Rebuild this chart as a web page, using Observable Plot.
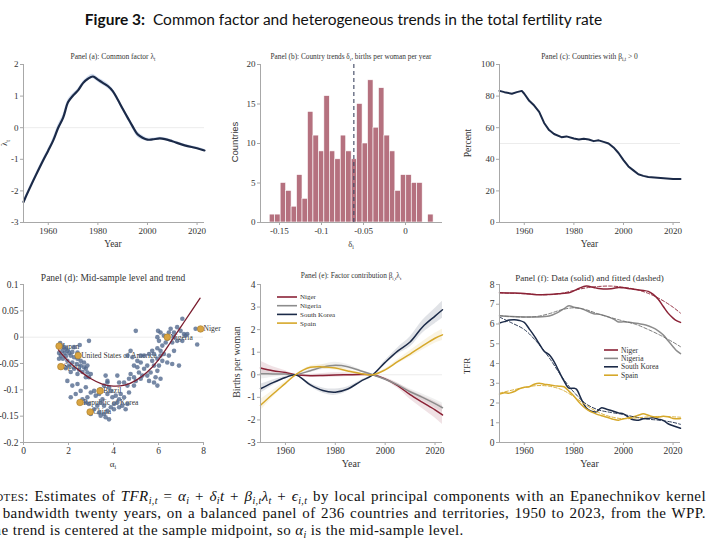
<!DOCTYPE html>
<html><head><meta charset="utf-8">
<script src="https://cdn.jsdelivr.net/npm/d3@7"></script>
<script src="https://cdn.jsdelivr.net/npm/@observablehq/plot@0.6"></script>
<style>
body{margin:0;width:709px;height:544px;position:relative;overflow:hidden;background:#fff;font-family:"Liberation Serif",serif;color:#111}
.panel{position:absolute}
.panel svg, .panel svg text{font-family:"Liberation Serif",serif}
#title{position:absolute;top:10px;left:-11px;width:709px;text-align:center;font-family:Lato,"Open Sans",sans-serif;font-size:15.5px;color:#111}
#title b{font-weight:700}
.note{position:absolute;left:-16px;width:722px;font-family:"Liberation Serif",serif;font-size:15px;line-height:17px;letter-spacing:0.4px;text-align:justify;text-align-last:justify;white-space:nowrap}
.note.last{text-align:left;text-align-last:left}
.note sub{font-size:10px;line-height:0;vertical-align:-3px}
.sc{font-variant:small-caps}
</style></head>
<body>
<div id="title"><b>Figure 3:</b>&nbsp; Common factor and heterogeneous trends in the total fertility rate</div>
<div id="root"></div>
<div class="note" style="top:488px;white-space:normal"><span class="sc">Notes</span>: Estimates of <i>TFR</i><sub><i>i,t</i></sub> = <i>α<sub>i</sub></i> + <i>δ<sub>i</sub>t</i> + <i>β<sub>i,t</sub>λ<sub>t</sub></i> + <i>ϵ<sub>i,t</sub></i> by local principal components with an Epanechnikov kernel</div>
<div class="note" style="top:505px;white-space:normal">of bandwidth twenty years, on a balanced panel of 236 countries and territories, 1950 to 2023, from the WPP.</div>
<div class="note last" style="top:522px">The trend is centered at the sample midpoint, so <i>α<sub>i</sub></i> is the mid-sample level.</div>
<script>
// ---------------- DATA ----------------
// Panel (a): common factor
const aYears = [1950,1952,1955,1958,1960,1962,1964,1966,1968,1970,1972,1974,1976,1978,1980,1982,1984,1986,1988,1990,1992,1994,1996,1998,2000,2002,2005,2007,2010,2015,2020,2023];
const aLambda = [-2.35,-2.0,-1.5,-1.02,-0.72,-0.4,0.0,0.32,0.81,1.02,1.18,1.41,1.55,1.62,1.52,1.42,1.32,1.16,0.89,0.60,0.32,0.04,-0.21,-0.32,-0.38,-0.37,-0.34,-0.36,-0.43,-0.56,-0.65,-0.72];
const aHalfCI = [0.05,0.05,0.05,0.05,0.06,0.08,0.10,0.10,0.08,0.06,0.05,0.05,0.06,0.07,0.07,0.08,0.08,0.07,0.06,0.06,0.07,0.08,0.09,0.07,0.05,0.04,0.04,0.04,0.04,0.04,0.04,0.04];

// Panel (b): histogram of country trends
const bBinStart = -0.1616;
const bBinWidth = 0.0065;
const bCounts = [1,1,5,4,2,6,3,14,11,9,16,9,8,11,9,8,15,10,18,12,17,11,9,4,6,6,5,5,0,1];
const bMean = -0.0615;

// Panel (c): share of countries with positive loading
const cYears = [1950,1952,1955,1957,1959,1960,1962,1964,1966,1968,1970,1972,1975,1977,1980,1982,1984,1986,1988,1990,1992,1994,1996,1998,2000,2002,2004,2006,2008,2010,2015,2020,2023];
const cPercent = [83.3,82.5,81.5,82.5,83.3,81.5,77,74,70,63,58.5,56,54,54.5,53.2,52.5,53,52.5,51.5,52,51,50,47.5,44,39.5,35.5,33,30.5,29.5,28.8,28.2,27.6,27.6];

// Panel (d): mid-sample level (alpha) vs trend (delta)
const dAlpha = [1.63,1.70,1.80,1.89,1.95,1.73,1.58,1.83,2.03,2.17,1.66,1.88,2.10,2.25,2.40,1.75,1.95,2.17,2.37,2.54,2.69,2.47,2.62,2.84,2.99,2.03,1.88,2.25,2.10,2.40,2.77,2.91,2.50,2.91,2.40,2.25,1.58,2.54,2.69,2.84,2.77,
 2.10,2.32,2.54,2.77,2.40,2.17,1.95,2.62,2.84,2.99,3.14,3.21,3.36,3.43,3.58,3.73,3.80,3.88,3.73,3.51,3.43,3.28,3.14,3.36,3.58,3.73,3.88,4.02,4.17,4.25,4.32,4.10,3.95,4.02,4.25,4.39,4.54,4.62,4.47,4.69,3.58,3.65,3.80,3.43,2.99,2.91,2.77,3.65,3.73,4.17,4.25,4.47,4.69,4.76,4.91,4.62,4.91,4.99,5.13,5.28,5.36,5.50,5.06,5.21,4.91,4.84,4.62,4.76,5.06,4.99,
 5.21,5.50,5.65,5.58,5.80,5.87,5.95,6.02,5.80,5.72,5.95,6.09,6.24,6.09,5.95,6.17,6.32,6.39,6.24,6.09,5.98,5.95,6.02,6.46,6.54,6.69,6.83,6.98,7.06,7.13,7.20,6.69,6.61,6.83,7.06,7.28,7.65,7.72,6.61,6.69,6.91,6.17,5.58,5.72,5.36,5.21,6.46,6.39,5.95,6.09,5.80];
const dDelta = [-0.011,-0.016,-0.019,-0.022,-0.026,-0.026,-0.030,-0.030,-0.030,-0.028,-0.035,-0.036,-0.035,-0.038,-0.041,-0.041,-0.045,-0.048,-0.051,-0.054,-0.057,-0.062,-0.066,-0.067,-0.070,-0.054,-0.059,-0.060,-0.066,-0.070,-0.076,-0.076,-0.015,-0.007,-0.029,-0.019,-0.041,-0.045,-0.048,-0.054,-0.060,
 -0.114,-0.108,-0.102,-0.095,-0.089,-0.092,-0.083,-0.118,-0.114,-0.105,-0.102,-0.111,-0.108,-0.099,-0.092,-0.086,-0.095,-0.102,-0.108,-0.118,-0.124,-0.130,-0.137,-0.143,-0.146,-0.140,-0.133,-0.127,-0.124,-0.118,-0.108,-0.111,-0.114,-0.137,-0.133,-0.130,-0.137,-0.127,-0.114,-0.105,-0.130,-0.152,-0.156,-0.149,-0.146,-0.127,-0.124,-0.073,-0.083,-0.073,-0.086,-0.086,-0.079,-0.070,-0.076,-0.092,-0.092,-0.083,-0.067,-0.073,-0.060,-0.054,-0.057,-0.048,-0.054,-0.038,-0.035,-0.026,-0.045,0.012,
 -0.079,-0.073,-0.067,-0.083,-0.086,-0.076,-0.064,-0.054,-0.054,-0.045,-0.041,-0.035,-0.032,-0.026,-0.021,-0.016,-0.010,-0.003,0.003,0.009,0.012,0.000,-0.007,0.009,0.016,0.009,0.019,0.012,0.035,0.006,0.003,0.000,-0.010,-0.007,-0.007,0.006,0.016,-0.014,-0.051,-0.026,-0.054,-0.045,-0.032,-0.026,-0.035,-0.035,-0.035,-0.048,-0.092,-0.079,-0.032];
const dHiNames = ["Japan","United States of America","Spain","Brazil","Republic of Korea","China","Nigeria","Niger"];
const dHiAlpha = [1.58,2.43,1.66,3.40,2.51,2.96,6.39,7.87];
const dHiDelta = [-0.017,-0.035,-0.056,-0.102,-0.124,-0.142,0.000,0.0156];
const dFitAlpha = [1.55,2.0,2.5,3.0,3.5,4.0,4.5,5.0,5.5,6.0,6.5,7.0,7.5,7.85];
const dFitDelta = [-0.024,-0.046,-0.064,-0.079,-0.089,-0.093,-0.091,-0.082,-0.066,-0.043,-0.012,0.020,0.052,0.074];

// Panel (e): factor contribution
const eYears = [1950,1955,1960,1964,1970,1975,1980,1985,1990,1995,2000,2005,2010,2015,2020,2023];
const eNiger   = [0.30,0.18,0.10,0.00,-0.04,-0.03,-0.01,0.00,0.01,0.00,-0.18,-0.48,-0.88,-1.22,-1.55,-1.78];
const eNigeria = [0.05,0.04,0.03,0.00,0.18,0.34,0.42,0.36,0.18,0.00,-0.20,-0.45,-0.75,-1.00,-1.28,-1.46];
const eKorea   = [-0.62,-0.35,-0.12,0.00,-0.45,-0.70,-0.77,-0.63,-0.30,0.00,0.55,1.05,1.45,2.12,2.60,2.88];
const eSpain   = [-1.35,-0.85,-0.38,0.00,0.33,0.35,0.30,0.17,0.06,0.00,0.22,0.58,0.92,1.28,1.62,1.77];
const eNigerCI   = [0.30,0.18,0.08,0.01,0.06,0.09,0.10,0.08,0.05,0.01,0.06,0.12,0.20,0.28,0.36,0.42];
const eNigeriaCI = [0.25,0.15,0.07,0.01,0.08,0.12,0.14,0.10,0.05,0.01,0.05,0.08,0.12,0.15,0.18,0.20];
const eKoreaCI   = [0.20,0.12,0.05,0.01,0.08,0.12,0.14,0.10,0.05,0.01,0.08,0.14,0.22,0.28,0.34,0.38];
const eSpainCI   = [0.25,0.15,0.07,0.01,0.06,0.09,0.10,0.07,0.04,0.01,0.05,0.09,0.14,0.18,0.22,0.25];

// Panel (f): data (solid) and fitted (dashed)
const fNigerYears = [1950,1955,1960,1965,1970,1975,1978,1980,1982,1985,1988,1990,1995,1998,2000,2003,2005,2008,2010,2012,2014,2016,2018,2020,2021,2023];
const fNiger      = [7.58,7.57,7.55,7.48,7.50,7.55,7.58,7.68,7.80,7.92,7.85,7.80,7.78,7.85,7.83,7.78,7.75,7.70,7.65,7.50,7.25,6.90,6.55,6.30,6.20,6.08];
const fNigerFitYears = [1950,1960,1970,1975,1980,1985,1990,1995,2000,2005,2010,2015,2020,2023];
const fNigerFit      = [7.58,7.53,7.48,7.55,7.70,7.83,7.90,7.92,7.86,7.75,7.55,7.25,6.85,6.55];
const fNigeriaYears = [1950,1955,1960,1965,1970,1973,1976,1978,1980,1983,1986,1988,1990,1993,1996,1998,2000,2003,2006,2009,2012,2014,2016,2018,2020,2021,2023];
const fNigeria      = [6.42,6.38,6.36,6.35,6.40,6.55,6.78,6.92,6.85,6.78,6.62,6.52,6.50,6.40,6.25,6.10,6.12,6.08,6.02,5.95,5.80,5.65,5.45,5.15,4.85,4.70,4.50];
const fNigeriaFitYears = [1950,1960,1965,1970,1975,1980,1985,1990,1995,2000,2005,2010,2015,2020,2023];
const fNigeriaFit      = [6.42,6.35,6.38,6.52,6.72,6.82,6.72,6.50,6.32,6.15,5.98,5.72,5.42,5.08,4.85];
const fKoreaYears = [1950,1952,1954,1956,1958,1960,1962,1964,1966,1968,1970,1972,1974,1976,1978,1980,1981,1983,1985,1987,1989,1991,1993,1995,1998,2000,2002,2004,2006,2008,2010,2012,2014,2016,2018,2020,2023];
const fKorea      = [6.05,6.12,6.20,6.22,6.18,6.08,5.75,5.40,5.00,4.62,4.45,4.10,3.60,3.12,2.75,2.75,2.70,2.20,1.75,1.58,1.55,1.75,1.70,1.62,1.50,1.45,1.28,1.15,1.13,1.20,1.22,1.25,1.18,1.12,0.95,0.85,0.72];
const fKoreaFitYears = [1950,1955,1960,1965,1970,1975,1980,1985,1990,1995,2000,2005,2010,2015,2020,2023];
const fKoreaFit      = [6.35,6.05,5.72,5.10,4.30,3.35,2.55,1.95,1.65,1.52,1.42,1.28,1.18,1.12,1.02,0.92];
const fSpainYears = [1950,1952,1954,1956,1958,1960,1962,1964,1966,1968,1970,1972,1974,1976,1978,1980,1982,1984,1986,1988,1990,1992,1994,1996,1998,2000,2002,2004,2006,2008,2010,2012,2014,2016,2018,2020,2022,2023];
const fSpain      = [2.45,2.52,2.50,2.58,2.72,2.80,2.82,2.95,3.00,2.95,2.92,2.88,2.85,2.82,2.60,2.35,2.05,1.80,1.62,1.50,1.40,1.33,1.25,1.17,1.13,1.20,1.25,1.30,1.38,1.45,1.38,1.30,1.28,1.33,1.30,1.22,1.20,1.22];
const fSpainFitYears = [1950,1955,1960,1965,1970,1975,1980,1985,1990,1995,2000,2005,2010,2015,2020,2023];
const fSpainFit      = [2.50,2.65,2.78,2.88,2.85,2.68,2.32,1.88,1.52,1.30,1.20,1.24,1.30,1.32,1.30,1.28];

const seriesNames = ["Niger","Nigeria","South Korea","Spain"];
const seriesColors = ["#8b2236","#8c8c8c","#1b2a48","#d6a82a"];

// ---------------- HELPERS ----------------
const AX = "#a8a8a8", TX = "#333";
const zip = (xs, ys) => xs.map((x, i) => ({x, y: ys[i]}));

function rich(t, str, fs) {
  let shift = 0;
  str.split(/(_\{[^}]*\})/).filter(Boolean).forEach(p => {
    if (p.startsWith("_{")) {
      t.append("tspan").attr("dy", fs * 0.3 - shift).attr("font-size", fs * 0.68).text(p.slice(2, -1));
      shift = fs * 0.3;
    } else {
      t.append("tspan").attr("dy", -shift).text(p);
      shift = 0;
    }
  });
}
function label(svg, {x, y, text, size = 9, anchor = "middle", rotate = false, family = null, fill = TX}) {
  const t = d3.select(svg).append("text").attr("font-size", size)
    .attr("fill", fill).attr("text-anchor", anchor);
  if (family) t.style("font-family", family);
  if (rotate) t.attr("transform", `translate(${x},${y}) rotate(-90)`).attr("dy", "0.35em");
  else t.attr("x", x).attr("y", y);
  rich(t, text, size);
  return t;
}
function panel({left, top, width, height, mL, mR, mT, mB, x, y, xTicks, yTicks, marks, fs = 9}) {
  const svg = Plot.plot({
    width, height, marginLeft: mL, marginRight: mR, marginTop: mT, marginBottom: mB,
    x: {domain: x, label: null}, y: {domain: y, label: null},
    style: {fontFamily: "Liberation Serif", fontSize: fs + "px", color: TX, background: "transparent", overflow: "visible"},
    marks: [
      ...marks,
      Plot.ruleX([x[0]], {stroke: AX, strokeWidth: 1}),
      Plot.ruleY([y[0]], {stroke: AX, strokeWidth: 1}),
      Plot.axisX({ticks: xTicks, tickSize: 3, tickPadding: 2, tickFormat: d => String(d), stroke: AX, fill: TX, label: null}),
      Plot.axisY({ticks: yTicks, tickSize: 3, tickPadding: 2, tickFormat: d => String(d), stroke: AX, fill: TX, label: null})
    ]
  });
  d3.select(svg).selectAll("text").style("font-family", "'Liberation Serif', serif");
  const div = document.createElement("div");
  div.className = "panel";
  div.style.left = left + "px"; div.style.top = top + "px";
  div.appendChild(svg);
  document.getElementById("root").appendChild(div);
  return svg;
}
function legend(svg, {x, y, step, len, size}) {
  const g = d3.select(svg).append("g");
  seriesNames.forEach((n, i) => {
    g.append("line").attr("x1", x).attr("x2", x + len).attr("y1", y + i * step).attr("y2", y + i * step)
      .attr("stroke", seriesColors[i]).attr("stroke-width", 1.6);
    g.append("text").attr("x", x + len + 3).attr("y", y + i * step).attr("dy", "0.35em")
      .attr("text-anchor", "start").attr("font-size", size).attr("fill", TX).text(n);
  });
}
const years = [1960, 1980, 2000, 2020];

// ---------------- PANEL (a) ----------------
{
  const data = aYears.map((t, i) => ({t, v: aLambda[i], lo: aLambda[i] - aHalfCI[i], hi: aLambda[i] + aHalfCI[i]}));
  const svg = panel({left: 0, top: 45, width: 215, height: 212, mL: 23, mR: 11, mT: 19, mB: 35,
    x: [1950, 2023], y: [-3, 2], xTicks: years, yTicks: [-3, -2, -1, 0, 1, 2],
    marks: [
      Plot.ruleY([0], {stroke: "#ececec"}),
      Plot.areaY(data, {x: "t", y1: "lo", y2: "hi", fill: "#a9bfe3", fillOpacity: 0.5, curve: "catmull-rom"}),
      Plot.line(data, {x: "t", y: "v", stroke: "#1b2a48", strokeWidth: 2.2, curve: "catmull-rom"})
    ]});
  label(svg, {x: 113, y: 13.5, text: "Panel (a): Common factor λ_{t}", size: 7.5});
  label(svg, {x: 113, y: 201.5, text: "Year", size: 9.5});
  label(svg, {x: 7, y: 98, text: "λ_{t}", size: 9, rotate: true});
}

// ---------------- PANEL (b) ----------------
{
  const bins = bCounts.map((c, i) => ({x1: bBinStart + i * bBinWidth, x2: bBinStart + (i + 1) * bBinWidth, c}));
  const svg = panel({left: 230, top: 45, width: 220, height: 212, mL: 30, mR: 8, mT: 19, mB: 35,
    x: [-0.1726, 0.044], y: [0, 20], xTicks: [-0.15, -0.1, -0.05, 0], yTicks: [0, 5, 10, 15, 20],
    marks: [
      Plot.rectY(bins.filter(d => d.c > 0), {x1: "x1", x2: "x2", y: "c", fill: "#b5717f", stroke: "#fff", strokeWidth: 0.6}),
      Plot.ruleX([bMean], {stroke: "#3e4762", strokeWidth: 1.1, strokeDasharray: "4,3"})
    ]});
  label(svg, {x: 121, y: 13.5, text: "Panel (b): Country trends δ_{i}, births per woman per year", size: 7.3});
  label(svg, {x: 121, y: 201.5, text: "δ_{i}", size: 8.5});
  label(svg, {x: 8, y: 97, text: "Countries", size: 9.5, rotate: true, family: "Liberation Sans"});
}

// ---------------- PANEL (c) ----------------
{
  const svg = panel({left: 460, top: 45, width: 249, height: 212, mL: 39, mR: 29, mT: 19, mB: 35,
    x: [1950, 2023], y: [0, 100], xTicks: years, yTicks: [0, 20, 40, 60, 80, 100],
    marks: [
      Plot.ruleY([50], {stroke: "#ececec"}),
      Plot.line(zip(cYears, cPercent), {x: "x", y: "y", stroke: "#1b2a48", strokeWidth: 2})
    ]});
  label(svg, {x: 129.5, y: 13.5, text: "Panel (c): Countries with β_{i,t} > 0", size: 7.5});
  label(svg, {x: 129.5, y: 201.5, text: "Year", size: 9.5});
  label(svg, {x: 11, y: 98, text: "Percent", size: 9.5, rotate: true});
}

// ---------------- PANEL (d) ----------------
{
  const pts = dAlpha.map((a, i) => ({a, d: dDelta[i]}));
  const hi = dHiNames.map((n, i) => ({n, a: dHiAlpha[i], d: dHiDelta[i]}));
  const svg = panel({left: 0, top: 262, width: 215, height: 212, mL: 23, mR: 12, mT: 22, mB: 32, fs: 9.5,
    x: [0, 8], y: [-0.2, 0.1], xTicks: [0, 2, 4, 6, 8], yTicks: [-0.2, -0.15, -0.1, -0.05, 0, 0.05, 0.1],
    marks: [
      Plot.ruleY([0], {stroke: "#ececec"}),
      Plot.text(hi, {x: "a", y: "d", text: "n", textAnchor: "start", dx: 3, fontSize: 7.5, fill: "#333"}),
      Plot.dot(pts, {x: "a", y: "d", r: 2.3, fill: "#50678c", fillOpacity: 0.78, stroke: "none"}),
      Plot.line(zip(dFitAlpha, dFitDelta), {x: "x", y: "y", stroke: "#7a1c2e", strokeWidth: 1.3, curve: "natural"}),
      Plot.dot(hi, {x: "a", y: "d", r: 3.3, fill: "#d9a441", stroke: "#a57a2a", strokeWidth: 0.6})
    ]});
  label(svg, {x: 113, y: 18.5, text: "Panel (d): Mid-sample level and trend", size: 9.5});
  label(svg, {x: 113, y: 204.5, text: "α_{i}", size: 9});
}

// ---------------- PANEL (e) ----------------
{
  const sets = [[eNiger, eNigerCI], [eNigeria, eNigeriaCI], [eKorea, eKoreaCI], [eSpain, eSpainCI]];
  const bandMarks = [], lineMarks = [];
  sets.forEach(([v, ci], k) => {
    const data = eYears.map((t, i) => ({t, v: v[i], lo: v[i] - ci[i], hi: v[i] + ci[i]}));
    bandMarks.push(Plot.areaY(data, {x: "t", y1: "lo", y2: "hi", fill: seriesColors[k], fillOpacity: 0.13, curve: "catmull-rom"}));
    lineMarks.push(Plot.line(data, {x: "t", y: "v", stroke: seriesColors[k], strokeWidth: 1.5, curve: "catmull-rom"}));
  });
  const svg = panel({left: 225, top: 262, width: 235, height: 212, mL: 35, mR: 18, mT: 22, mB: 32, fs: 9.5,
    x: [1950, 2023], y: [-3, 4], xTicks: years, yTicks: [-3, -2, -1, 0, 1, 2, 3, 4],
    marks: [Plot.ruleY([0], {stroke: "#ececec"}), ...bandMarks, ...lineMarks]});
  label(svg, {x: 126, y: 15.5, text: "Panel (e): Factor contribution β_{i,t}λ_{t}", size: 7.3});
  label(svg, {x: 126, y: 204.5, text: "Year", size: 10});
  label(svg, {x: 15, y: 100, text: "Births per woman", size: 10, rotate: true});
  legend(svg, {x: 52, y: 35, step: 8.7, len: 20, size: 7});
}

// ---------------- PANEL (f) ----------------
{
  const solid = [[fNigerYears, fNiger], [fNigeriaYears, fNigeria], [fKoreaYears, fKorea], [fSpainYears, fSpain]];
  const fitted = [[fNigerFitYears, fNigerFit], [fNigeriaFitYears, fNigeriaFit], [fKoreaFitYears, fKoreaFit], [fSpainFitYears, fSpainFit]];
  const marks = [];
  solid.forEach(([t, v], k) => marks.push(Plot.line(zip(t, v), {x: "x", y: "y", stroke: seriesColors[k], strokeWidth: 1.5, curve: "catmull-rom"})));
  fitted.forEach(([t, v], k) => marks.push(Plot.line(zip(t, v), {x: "x", y: "y", stroke: k === 1 ? "#6f6f6f" : seriesColors[k], strokeWidth: 0.9, strokeDasharray: "3.5,2", curve: "catmull-rom"})));
  const svg = panel({left: 460, top: 262, width: 249, height: 212, mL: 39, mR: 29, mT: 22, mB: 32, fs: 9.5,
    x: [1950, 2023], y: [0, 8], xTicks: years, yTicks: [0, 1, 2, 3, 4, 5, 6, 7, 8],
    marks});
  label(svg, {x: 129.5, y: 18.5, text: "Panel (f): Data (solid) and fitted (dashed)", size: 9});
  label(svg, {x: 129.5, y: 204.5, text: "Year", size: 10});
  label(svg, {x: 10, y: 104, text: "TFR", size: 9, rotate: true});
  legend(svg, {x: 144, y: 88, step: 8.4, len: 14, size: 7.5});
}
</script>
</body></html>
